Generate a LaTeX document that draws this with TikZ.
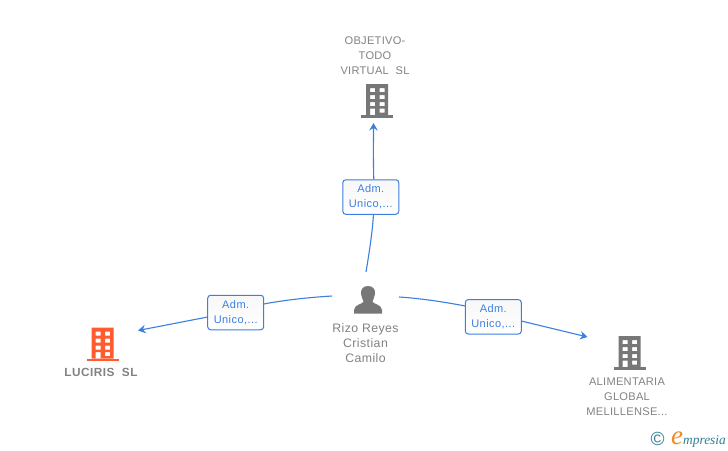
\documentclass[tikz,border=0pt]{standalone}
\usepackage{fontspec}
\setmainfont{Liberation Sans}
\newfontfamily\logofont{Liberation Serif}
\newfontfamily\spacedfont[LetterSpace=2.5]{Liberation Sans}
\newfontfamily\widefont[LetterSpace=3.5]{Liberation Sans}
\newfontfamily\widerfont[LetterSpace=4]{Liberation Sans}
\usetikzlibrary{arrows.meta}
\definecolor{linkblue}{HTML}{3B7FE0}
\definecolor{labelgray}{HTML}{828282}
\definecolor{icongray}{HTML}{777777}
\definecolor{iconorange}{HTML}{FF5B2E}
\definecolor{logoteal}{HTML}{2F7F95}
\definecolor{logoorange}{HTML}{F08A24}
\tikzset{
  x=1pt,y=-1pt,
  link/.style={linkblue,line width=1.1pt},
  arrowlink/.style={link,-{Stealth[length=7.5pt,width=8.5pt,inset=2.5pt]}},
  rolebox/.style={draw=linkblue,line width=1pt,rounded corners=3pt,top color=black!3,bottom color=white,minimum width=56pt,minimum height=34.5pt,inner sep=0pt,outer sep=0pt,text=linkblue,font=\widerfont\fontsize{11}{15}\selectfont,align=center},
  entity/.style={text=labelgray,font=\spacedfont\fontsize{11.1}{15}\selectfont,align=center,inner sep=0pt},
  personlabel/.style={entity,font=\widefont\fontsize{12.3}{15}\selectfont},
  entitybold/.style={entity,font=\widerfont\fontsize{11.8}{15}\selectfont\bfseries},
  iconspot/.style={minimum width=32pt,minimum height=34pt,inner sep=0pt,outer sep=0pt},
  pics/building/.style={code={
    \fill[#1,even odd rule] (-11,-16.5) rectangle (11,14.5)
      (-7,-12.5) rectangle (-2,-8.5) (2.5,-12.5) rectangle (7.5,-8.5)
      (-7,-5.5) rectangle (-2,-1.5) (2.5,-5.5) rectangle (7.5,-1.5)
      (-7,1.5) rectangle (-2,5.5) (2.5,1.5) rectangle (7.5,5.5)
      (-7,8) rectangle (-2,15) (2.5,8) rectangle (7.5,12);
    \fill[#1] (-16,14.5) rectangle (16,17);
  }}
}
\begin{document}
\begin{tikzpicture}
\useasboundingbox (0,0) rectangle (728,450);
\fill[white] (0,0) rectangle (728,450);

% icons
\node[iconspot] (topicon) at (377,100.5) {};
\pic at (377,100.5) {building={icongray}};
\node[iconspot] (lefticon) at (102.5,344) {};
\pic at (102.5,344) {building={iconorange}};
\node[iconspot] (righticon) at (629.5,352.5) {};
\pic at (629.5,352.5) {building={icongray}};
\node[minimum width=28pt,minimum height=28pt,inner sep=0pt] (person) at (368,299.5) {};
\fill[icongray] (368,286) .. controls (373.5,286) and (375.5,290) .. (375,294)
  .. controls (374.6,297.5) and (373,299.5) .. (372.5,301.5)
  .. controls (372.5,304) and (381.5,304) .. (382,310)
  -- (382,313.5) -- (354,313.5) -- (354,310)
  .. controls (354.5,304) and (363.5,304) .. (363.5,301.5)
  .. controls (363,299.5) and (361.4,297.5) .. (361,294)
  .. controls (360.5,290) and (362.5,286) .. (368,286) -- cycle;

% texts
\node[entity] (toptext) at (375,55.5) {OBJETIVO-\\TODO\\VIRTUAL\ \ SL};
\node[entitybold] (lefttext) at (101,372.5) {LUCIRIS\ \ SL};
\node[personlabel] (persontext) at (365.5,343) {Rizo Reyes\\Cristian\\Camilo};
\node[entity] (righttext) at (627,397) {ALIMENTARIA\\GLOBAL\\MELILLENSE...};

% free ends
\coordinate (ps1) at (366,272);
\coordinate (ps2) at (332,296);
\coordinate (ps3) at (399,297);
\coordinate (tip1) at (373.5,123);
\coordinate (tip2) at (138,330.5);
\coordinate (tip3) at (587.5,337);

% connectors
\node[rolebox] (box1) at (370.8,197) {Adm.\\Unico,...};
\node[rolebox] (box2) at (235.7,312.5) {Adm.\\Unico,...};
\node[rolebox] (box3) at (493.3,316.8) {Adm.\\Unico,...};
\draw[link] (ps1) .. controls (370,248) and (372.5,230) .. (box1.south -| 373.5,214);
\draw[arrowlink] (373.8,179.3) .. controls (373.2,160) and (373.5,140) .. (tip1);
\draw[link] (ps2) .. controls (308,297.5) and (285,300) .. (263.7,304);
\draw[arrowlink] (207.7,317) -- (tip2);
\draw[link] (ps3) .. controls (422,298.5) and (444,302) .. (465.3,306);
\draw[arrowlink] (521.3,321) -- (tip3);

% logo
\node[inner sep=0pt,text=logoteal,font=\fontsize{19}{19}\selectfont] (copyr) at (657.5,438.5) {©};
\node[inner sep=0pt,anchor=base west,text=logoorange,font=\logofont\itshape\fontsize{27}{27}\selectfont] (logoe) at (671,444) {e};
\node[inner sep=0pt,anchor=base west,text=logoteal,font=\logofont\itshape\fontsize{13.4}{13.4}\selectfont] (logot) at (683,444) {mpresia};
\end{tikzpicture}
\end{document}
